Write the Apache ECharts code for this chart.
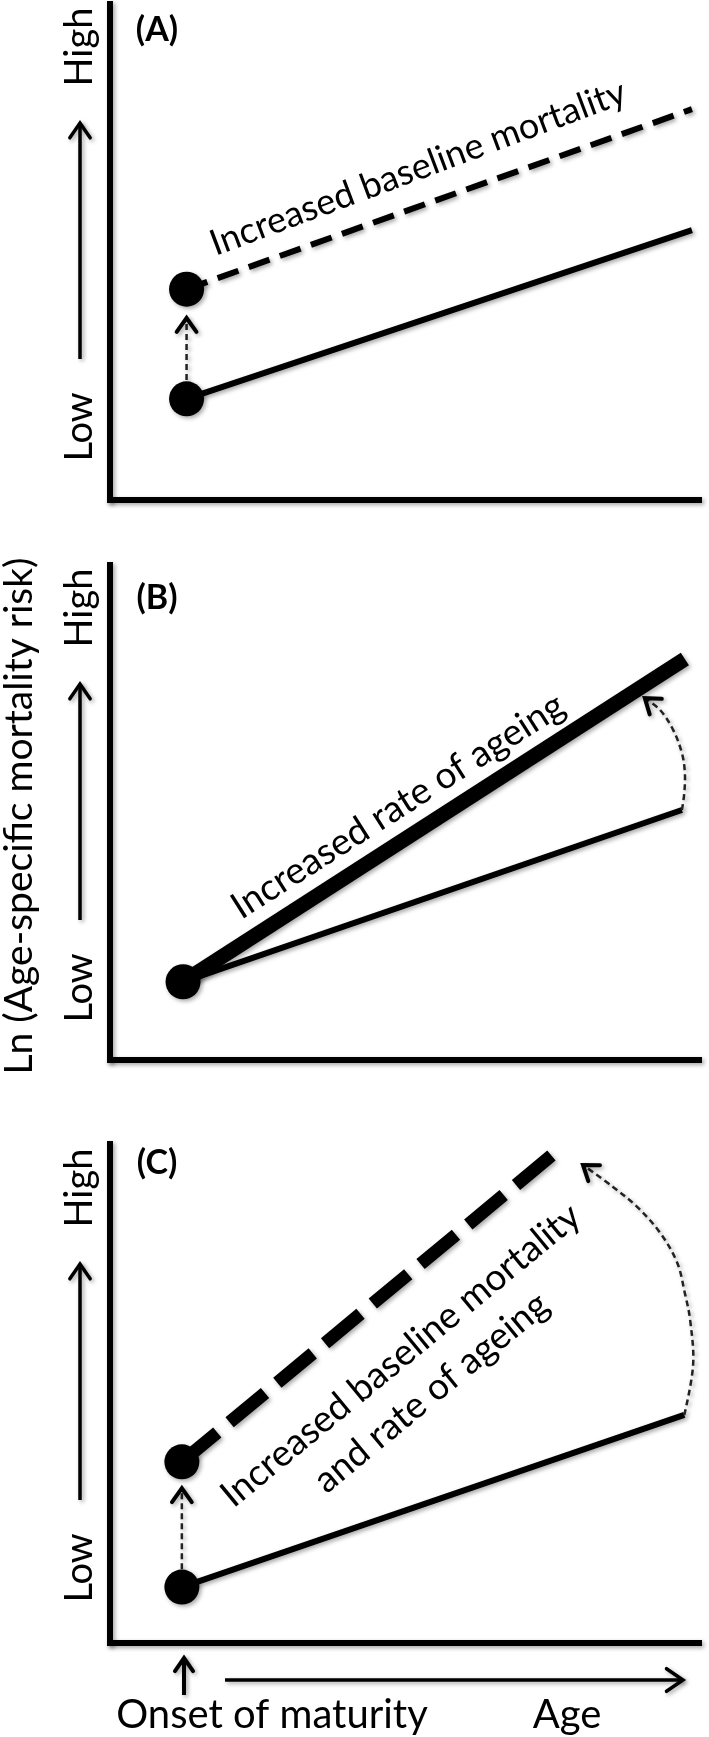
<!DOCTYPE html>
<html>
<head>
<meta charset="utf-8">
<script src="https://cdn.jsdelivr.net/npm/echarts@6/dist/echarts.min.js"></script>
<style>
html,body{margin:0;padding:0;background:#fff;}
#chart{width:709px;height:1737px;}
</style>
</head>
<body>
<div id="chart"></div>
<script>
// ---- data (arbitrary units 0..10 on both axes of every panel) ----
const dotsA  = [[1.30, 2.04], [1.30, 4.25]];
const baseA  = [[1.30, 2.04], [9.88, 5.44]];
const shiftA = [[1.30, 4.25], [9.88, 7.88]];
const arrowA = [[1.30, 2.42], [1.30, 3.67]];

const dotB   = [[1.24, 1.58]];
const baseB  = [[1.24, 1.58], [9.71, 5.05]];
const fastB  = [[1.24, 1.58], [9.76, 8.10]];
const arrowB = [[9.71, 5.05], [9.75, 5.39], [9.76, 5.80], [9.71, 6.20], [9.56, 6.67], [9.34, 7.07], [9.08, 7.31]];

const dotsC   = [[1.22, 1.12], [1.22, 3.63]];
const baseC   = [[1.22, 1.12], [9.75, 4.57]];
const shiftC  = [[1.22, 3.63], [7.69, 9.96]];
const arrowC1 = [[1.22, 1.48], [1.22, 3.10]];
const arrowC2 = [[9.75, 4.57], [9.90, 5.57], [9.85, 6.47], [9.76, 7.01], [9.63, 7.62], [9.34, 8.22], [8.95, 8.74], [8.54, 9.14], [8.03, 9.58]];

const panelLabels = ['(A)', '(B)', '(C)'];
const notes = ['Increased baseline mortality', 'Increased rate of ageing', 'Increased baseline mortality\nand rate of ageing'];
const yTitle = 'Ln (Age-specific mortality risk)';
const yEnds = ['Low', 'High'];
const xLabels = ['Onset of maturity', 'Age'];

// ---- styling / layout ----
const FONT = 'Lato, "Open Sans", sans-serif';
const SH = {shadowColor: 'rgba(0,0,0,0.35)', shadowBlur: 4, shadowOffsetX: 2, shadowOffsetY: 2};
const grids = [
  {left: 110, width: 589, top: 4, height: 496},
  {left: 110, width: 589, top: 565, height: 495},
  {left: 110, width: 589, top: 1144, height: 499}
];
const panelDy = [0, 561, 1141];
const labelY = [30, 598, 1163];

function axis(i) {
  return {
    type: 'value', gridIndex: i, min: 0, max: 10,
    axisLine: {show: true, lineStyle: Object.assign({color: '#000', width: 6, cap: 'square'}, SH)},
    axisTick: {show: false}, axisLabel: {show: false}, splitLine: {show: false}
  };
}

function lineS(gi, data, width, dash, dashOffset) {
  return {
    type: 'line', xAxisIndex: gi, yAxisIndex: gi, data: data,
    showSymbol: false, symbol: 'none', silent: true, z: 3,
    lineStyle: Object.assign({color: '#000', width: width, type: dash || 'solid', dashOffset: dashOffset || 0, cap: 'butt', opacity: 1}, SH)
  };
}
function dotS(gi, data) {
  return {
    type: 'scatter', xAxisIndex: gi, yAxisIndex: gi, data: data,
    symbol: 'circle', symbolSize: 35, silent: true, z: 6,
    itemStyle: Object.assign({color: '#000', opacity: 1}, SH)
  };
}
function arrowS(gi, paths) {
  return {
    type: 'custom', xAxisIndex: gi, yAxisIndex: gi, coordinateSystem: 'cartesian2d',
    clip: false, silent: true, z: 5,
    data: paths.map((p, i) => [p[p.length - 1][0], p[p.length - 1][1], i]),
    renderItem: function (params, api) {
      const pts = paths[api.value(2)].map(p => api.coord(p));
      const n = pts.length;
      const tip = pts[n - 1], prev = pts[n - 2];
      const ang = Math.atan2(tip[1] - prev[1], tip[0] - prev[0]);
      const L = 17, sp = 0.62;
      const a1 = [tip[0] - L * Math.cos(ang - sp), tip[1] - L * Math.sin(ang - sp)];
      const a2 = [tip[0] - L * Math.cos(ang + sp), tip[1] - L * Math.sin(ang + sp)];
      return {
        type: 'group', children: [
          {type: 'polyline', shape: {points: pts, smooth: n > 2 ? 0.35 : 0},
           style: Object.assign({stroke: '#222', lineWidth: 2.5, lineDash: [6, 4], fill: null}, SH)},
          {type: 'polyline', shape: {points: [a1, tip, a2]},
           style: Object.assign({stroke: '#000', lineWidth: 4, fill: null, lineJoin: 'miter', lineCap: 'round'}, SH)}
        ]
      };
    }
  };
}

// ---- annotations drawn with graphic ----
const graphic = [];
function txt(x, y, text, size, rot, extra) {
  graphic.push({
    type: 'text', x: x, y: y, rotation: rot || 0, silent: true,
    style: Object.assign({text: text, fill: '#000', font: size + 'px ' + FONT,
      textAlign: 'center', textVerticalAlign: 'middle'}, extra || {})
  });
}
function arrowG(x1, y1, x2, y2, w, L) {
  const ang = Math.atan2(y2 - y1, x2 - x1), sp = 0.6;
  graphic.push({type: 'polyline', silent: true, shape: {points: [[x1, y1], [x2, y2]]},
    style: Object.assign({stroke: '#000', lineWidth: w, fill: null}, SH)});
  graphic.push({type: 'polyline', silent: true,
    shape: {points: [[x2 - L * Math.cos(ang - sp), y2 - L * Math.sin(ang - sp)], [x2, y2],
                     [x2 - L * Math.cos(ang + sp), y2 - L * Math.sin(ang + sp)]]},
    style: Object.assign({stroke: '#000', lineWidth: w, fill: null, lineJoin: 'miter', lineCap: 'round'}, SH)});
}
for (let p = 0; p < 3; p++) {
  const dy = panelDy[p];
  txt(80, 427 + dy, yEnds[0], 38, Math.PI / 2);
  txt(80, 47 + dy, yEnds[1], 38, Math.PI / 2);
  arrowG(80, 359 + dy, 80, 123 + dy, 3.5, 18);
  txt(157, labelY[p], panelLabels[p], 34, 0, {font: 'bold 34px ' + FONT});
}
txt(19, 816, yTitle, 39, Math.PI / 2);
txt(418, 168, notes[0], 36, 20.5 * Math.PI / 180);
txt(398, 806, notes[1], 37, 32.5 * Math.PI / 180);
txt(416, 1374, notes[2], 37, 39.5 * Math.PI / 180, {lineHeight: 48});
txt(272, 1715, xLabels[0], 40, 0);
txt(567, 1715, xLabels[1], 40, 0);
arrowG(184, 1695, 184, 1658, 4, 16);
arrowG(225, 1680, 683, 1680, 3.5, 20);

const chart = echarts.init(document.getElementById('chart'), null, {renderer: 'canvas'});
chart.setOption({
  animation: false,
  backgroundColor: '#fff',
  grid: grids,
  xAxis: [axis(0), axis(1), axis(2)],
  yAxis: [axis(0), axis(1), axis(2)],
  graphic: graphic,
  series: [
    lineS(0, baseA, 6),
    lineS(0, shiftA, 6, [22, 11], 0),
    dotS(0, dotsA),
    arrowS(0, [arrowA]),
    lineS(1, baseB, 6),
    lineS(1, fastB, 15),
    dotS(1, dotB),
    arrowS(1, [arrowB]),
    lineS(2, baseC, 6),
    lineS(2, shiftC, 13, [46, 16], 0),
    dotS(2, dotsC),
    arrowS(2, [arrowC1, arrowC2])
  ]
});
</script>
</body>
</html>
